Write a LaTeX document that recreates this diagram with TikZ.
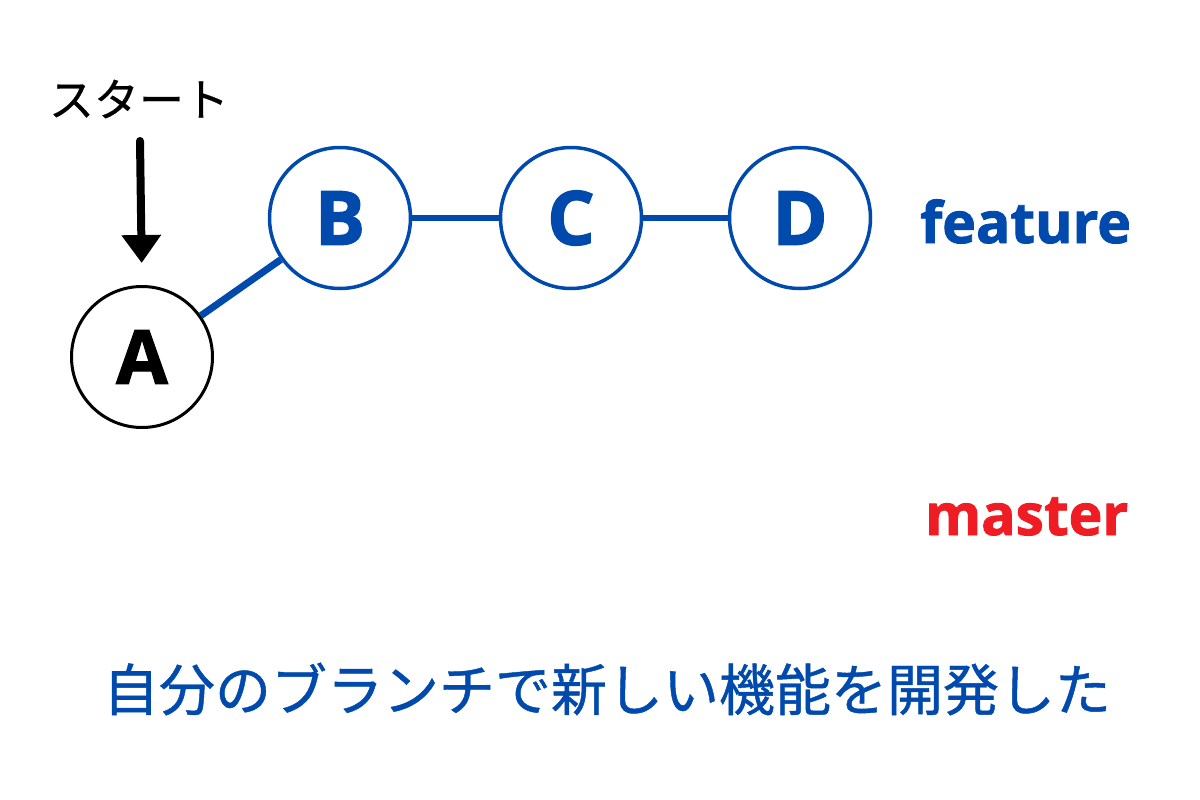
\documentclass[tikz,border=0pt]{standalone}
\usepackage{fontspec}
\setmainfont{Open Sans}
\newfontfamily\heavy{Open Sans}[BoldFeatures={FakeBold=1.6}]
\newfontfamily\cjk{Noto Sans CJK JP}[FakeBold=0.8]
\newfontfamily\cjkstart{Noto Sans CJK JP}[FakeBold=0.5]
\usetikzlibrary{arrows.meta}
\definecolor{gblue}{RGB}{0,74,173}
\definecolor{gred}{RGB}{240,28,36}
\tikzset{
  commit/.style={circle, draw, line width=3.5pt, minimum size=141pt, inner sep=0pt,
    font=\heavy\fontsize{75}{80}\selectfont\bfseries},
  bluecommit/.style={commit, draw=gblue, text=gblue},
  blackcommit/.style={commit, draw=black, line width=3pt, text=black},
  branchlink/.style={draw=gblue, line width=5.5pt},
  branchlabel/.style={inner sep=0pt, anchor=base west, font=\heavy\fontsize{57}{64}\selectfont\bfseries}
}
\begin{document}
\begin{tikzpicture}[x=1pt,y=-1pt]
\useasboundingbox[fill=white] (0,0) rectangle (1200,800);
\node[blackcommit] (A) at (142,357) {A};
\node[bluecommit] (B) at (340,218) {B};
\node[bluecommit] (C) at (571,218) {C};
\node[bluecommit] (D) at (800,218) {D};
\draw[branchlink, line width=7pt] (A) -- (B);
\draw[branchlink] (B) -- (C);
\draw[branchlink] (C) -- (D);
\node[inner sep=0pt, font=\cjkstart\fontsize{45}{50}\selectfont] (start) at (139,99) {スタート};
\coordinate (arrtop) at (140,141);
\draw[line width=8pt, line cap=round, -{Triangle[width=38pt,length=28pt]}, shorten >=22pt] (arrtop) -- (A.north);
\node[branchlabel, text=gblue] (feature) at (920,243) {feature};
\node[branchlabel, text=gred] (master) at (925,535) {master};
\node[inner sep=0pt, text=gblue, font=\cjk\fontsize{56}{62}\selectfont] (caption) at (607,689) {自分のブランチで新しい機能を開発した};
\end{tikzpicture}
\end{document}
